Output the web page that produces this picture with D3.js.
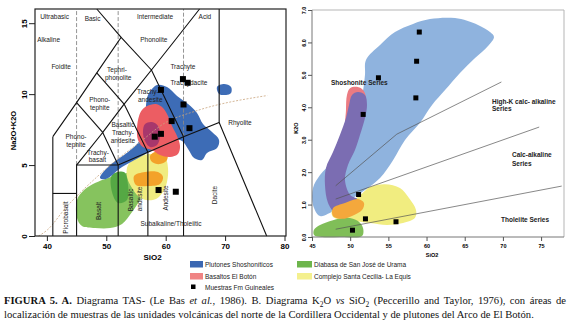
<!DOCTYPE html>
<html>
<head>
<meta charset="utf-8">
<script src="https://cdn.jsdelivr.net/npm/d3@7"></script>
<style>
  body { margin: 0; background: #fff; }
  svg { display: block; font-family: "Liberation Sans", Arial, sans-serif; }
  .caption { font-family: "Liberation Serif", "Times New Roman", serif; white-space: pre; }
</style>
</head>
<body>
<svg id="fig" width="570" height="325"></svg>
<script>
// ---------------- A. TAS diagram (SiO2 vs Na2O+K2O) ----------------
const tasTicksX = [40, 50, 60, 70, 80];
const tasTicksY = [0, 5, 10, 15];

// field boundaries as polylines [SiO2, Na2O+K2O]
const tasBoundaries = [
  [[41, 0], [41, 7]],
  [[41, 3], [45, 3]],
  [[45, 0], [45, 5], [52, 5], [52, 0]],
  [[57, 0], [57, 5.9]],
  [[63, 0], [63, 7]],
  [[52, 5], [57, 5.9], [63, 7], [69, 8], [77, 0]],
  [[69, 8], [69, 16]],
  [[45, 5], [49.4, 7.3], [52, 5]],
  [[49.4, 7.3], [53, 9.3], [57, 5.9]],
  [[53, 9.3], [57.6, 11.7], [63, 7]],
  [[41, 7], [45, 9.4], [48.4, 11.5], [52.5, 14], [48.4, 16]],
  [[45, 9.4], [49.4, 7.3]],
  [[48.4, 11.5], [53, 9.3]],
  [[52.5, 14], [57.6, 11.7], [61, 13.5], [65.7, 16]]
];
// ultrabasic / basic / intermediate / acid dividers (dashed, up to the top)
const tasDividers = [[45, 5], [52, 5], [63, 7]];
// alkaline / subalkaline divide (Irvine & Baragar)
const tasAlkalineDivide = [[38.6, 0], [40, 0.4], [43.2, 2], [45, 2.8], [48, 4], [50, 4.75],
  [53.7, 6], [55, 6.4], [60, 8], [65, 8.8], [77.1, 9.9]];

const tasFieldLabels = [
  ["Ultrabasic", 41.3, 15.3], ["Basic", 47.7, 15.15], ["Intermediate", 58.2, 15.3], ["Acid", 66.6, 15.3],
  ["Alkaline", 40.3, 13.65], ["Phonolite", 58.0, 13.65], ["Foidite", 42.4, 11.75],
  ["Tephri-", 51.8, 11.55], ["phonolite", 52.0, 10.99],
  ["Phono-", 48.9, 9.44], ["tephite", 48.9, 8.9],
  ["Phono-", 44.9, 6.84], ["tephite", 44.9, 6.27],
  ["Trachy-", 48.6, 5.71], ["basalt", 48.5, 5.21],
  ["Basaltic", 52.8, 7.68], ["Trachy-", 52.8, 7.12], ["andesite", 52.8, 6.55],
  ["Trachy-", 57.0, 10.01], ["andesite", 57.4, 9.44],
  ["Trachyte", 62.9, 11.77], ["Trachydacite", 63.9, 10.64],
  ["Rhyolite", 72.5, 7.82], ["Subalkaline/Tholeiitic", 60.9, 0.7]
];
const tasRotatedLabels = [
  ["Picrobasalt", 43.56, 1.3], ["Basalt", 49.1, 1.76], ["Basaltic", 54.58, 2.54],
  ["andesite", 55.93, 2.61], ["Andesite", 60.47, 2.68], ["Dacite", 68.64, 2.89]
];

// sample areas [SiO2, Na2O+K2O]
const tasDiabasa = [[45.07, 2.54], [46.25, 3.24], [48.1, 3.73], [50.29, 4.09], [52.65, 4.37], [54.67, 4.44],
  [56.01, 4.23], [56.52, 3.52], [55.84, 2.68], [54.33, 1.69], [52.65, 0.85], [50.63, 0.56],
  [48.1, 0.56], [45.91, 0.7], [45.07, 1.27]];
const tasDiabasaCore = [[50.96, 4.3], [52.98, 4.51], [53.66, 3.59], [53.49, 2.54], [51.97, 2.33], [50.96, 3.1]];
const tasCecilia = [[53.66, 5.0], [55.68, 5.64], [58.2, 5.78], [59.88, 5.57], [60.39, 4.79], [60.22, 3.81],
  [59.55, 3.1], [58.37, 2.61], [56.69, 2.54], [55.34, 2.82], [54.33, 3.38], [53.49, 4.16]];
const tasCeciliaCoreA = [[57.36, 5.64], [59.04, 6.06], [60.22, 5.92], [60.22, 5.36], [59.04, 5.07], [57.7, 5.21]];
const tasCeciliaCoreB = [[54.67, 4.23], [56.52, 4.51], [58.71, 4.51], [59.55, 4.16], [59.04, 3.66], [57.02, 3.52], [55.0, 3.59]];
const tasPlutones = [[57.02, 9.94], [58.54, 10.64], [60.22, 10.5], [61.91, 9.87], [63.76, 9.3], [65.27, 8.67],
  [66.28, 7.89], [67.8, 7.33], [68.98, 6.77], [68.64, 6.2], [66.96, 5.85], [66.11, 5.36], [64.77, 5.5],
  [63.76, 6.13], [62.75, 6.69], [61.06, 6.77], [58.71, 6.27], [55.68, 5.57], [52.65, 4.86], [49.95, 4.02],
  [48.94, 4.09], [50.63, 5.0], [53.66, 5.92], [55.68, 6.77], [56.52, 8.17], [56.69, 9.23]];
const tasPlutonesSmall = [[68.64, 10.5], [69.82, 10.71], [71.0, 10.5], [71.0, 10.08], [70.16, 9.94], [68.98, 10.01]];
const tasBasaltos = [[56.86, 9.16], [58.37, 9.3], [59.55, 9.02], [60.39, 8.46], [61.06, 7.75], [61.91, 7.05],
  [62.41, 6.34], [62.07, 5.78], [60.73, 5.57], [59.04, 5.71], [57.7, 6.06], [56.18, 6.27], [55.34, 6.77],
  [55.17, 7.61], [55.51, 8.46], [56.01, 8.88]];
const tasBasaltosCore = [[56.52, 7.89], [57.7, 8.03], [58.71, 7.75], [59.04, 7.05], [58.54, 6.41],
  [57.36, 6.27], [56.52, 6.69], [56.18, 7.33]];

const tasSamples = [[62.9, 11.06], [63.7, 10.8], [59.2, 10.3], [63.0, 9.27], [61.0, 8.1], [64.0, 7.6],
  [59.2, 7.2], [58.15, 7.0], [58.8, 3.24], [61.7, 3.12]];

// ---------------- B. K2O vs SiO2 (Peccerillo & Taylor) ----------------
const k2oTicksX = [45, 50, 55, 60, 65, 70, 75];
const k2oTicksY = [0, 1, 2, 3, 4, 5, 6, 7];
const k2oSeriesLines = [
  [[48.1, 1.58], [56.1, 3.17], [69.8, 4.78]],
  [[48.1, 1.17], [74.75, 3.39]],
  [[48.1, 0.24], [77.7, 1.57]]
];
const k2oSeriesLabels = [
  ["Shoshonite Series", 47.49, 4.69], ["High-K calc- alkaline", 68.57, 4.1], ["Series", 68.57, 3.89],
  ["Calc-alkaline", 71.19, 2.47], ["Series", 71.19, 2.2], ["Tholeiite Series", 69.75, 0.46]
];

const k2oPlutones = [[52.07, 5.46], [53.91, 5.92], [55.87, 6.32], [58.23, 6.57], [60.45, 6.72], [63.73, 6.75],
  [66.74, 6.54], [68.31, 6.32], [68.83, 6.17], [68.05, 5.89], [66.35, 5.52], [64.38, 5.06], [62.42, 4.53],
  [60.72, 4.07], [59.14, 3.52], [57.18, 2.99], [55.61, 2.37], [53.91, 1.82], [51.94, 1.45], [49.98, 1.14],
  [48.01, 0.83], [46.05, 0.65], [45.13, 0.99], [45.13, 1.51], [46.05, 1.91], [47.75, 2.37], [49.06, 2.99],
  [50.24, 3.67], [51.55, 4.38], [51.94, 5.0]];
const k2oBasaltos = [[49.58, 4.38], [49.98, 4.59], [50.89, 4.63], [51.68, 4.53], [52.07, 4.29], [51.55, 3.61],
  [50.24, 3.15], [49.45, 3.3], [49.45, 3.92]];
const k2oBasaltosOverlap = [[50.24, 4.38], [51.02, 4.47], [51.94, 4.38], [52.2, 4.07], [51.94, 3.67],
  [51.29, 3.15], [50.63, 2.68], [49.71, 2.22], [49.32, 1.76], [49.98, 1.3], [51.02, 1.14], [49.98, 0.89],
  [48.01, 0.77], [47.1, 1.05], [46.7, 1.6], [46.83, 2.13], [47.75, 2.62], [48.67, 3.15], [49.45, 3.67], [49.85, 4.07]];
const k2oCecilia = [[47.62, 0.83], [49.32, 1.02], [51.02, 1.23], [52.6, 1.54], [54.56, 1.63], [56.52, 1.51],
  [57.7, 1.2], [58.62, 0.83], [58.49, 0.59], [56.92, 0.43], [54.82, 0.37], [52.6, 0.43], [49.98, 0.52], [47.75, 0.62]];
const k2oCeciliaCore = [[47.75, 0.89], [49.32, 1.05], [51.02, 1.17], [51.81, 1.05], [51.55, 0.83], [50.24, 0.65],
  [48.93, 0.56], [47.75, 0.65]];
const k2oDiabasa = [[45.26, 0.22], [46.05, 0.37], [47.75, 0.52], [49.58, 0.59], [51.02, 0.49], [51.68, 0.28],
  [51.55, 0.03], [48.67, 0.0], [46.31, 0.0], [45.26, 0.06]];

const k2oSamples = [[59.05, 6.32], [58.7, 5.42], [53.7, 4.91], [58.6, 4.29], [51.7, 3.78], [51.1, 1.31],
  [52.0, 0.56], [56.0, 0.47], [50.3, 0.21]];

// ---------------- legend + caption ----------------
const legendUnits = [
  ["Plutones Shoshoníticos", "#3b67b2"],
  ["Basaltos El Botón", "#f08484"],
  ["Diabasa de San José de Urama", "#6db54c"],
  ["Complejo Santa Cecilia- La Equis", "#f4f08e"]
];
const legendSampleLabel = "Muestras Fm Guineales";

const captionLine1 = [
  { text: "FIGURA 5. A.", weight: "bold" },
  { text: " Diagrama TAS- (Le Bas " },
  { text: "et al.", style: "italic" },
  { text: ", 1986). B. Diagrama K" },
  { text: "2", sub: true },
  { text: "O " },
  { text: "vs", style: "italic" },
  { text: " SiO" },
  { text: "2", sub: true },
  { text: " (Peccerillo and Taylor, 1976), con áreas de" }
];
const captionLine2 = [
  { text: "localización de muestras de las unidades volcánicas del norte de la Cordillera Occidental y de plutones del Arco de El Botón." }
];

document.addEventListener('DOMContentLoaded', function () {

    // ====================================================================
    // 1. CONFIGURATION
    // ====================================================================
    const CONFIG = {
        tas: { left: 35, right: 286, top: 9, bottom: 236, domainX: [38, 80.25], domainY: [0, 16] },
        k2o: { left: 312, right: 564, top: 10, bottom: 237, domainX: [45, 78], domainY: [0, 7] },
        tasColors: {
            diabasa: "#86c35e", diabasaCore: "#55a844", cecilia: "#f0ec80", ceciliaCore: "#f3a22a",
            plutones: "#3d6cb6", basaltos: "#ec5d63", basaltosCore: "#a7376c"
        },
        k2oColors: {
            plutones: "#8fb3de", basaltos: "#eb7b82", overlap: "#7b6db2",
            cecilia: "#f1ed80", ceciliaCore: "#f4a83c", diabasa: "#80be58"
        },
        fieldFont: 6.5,
        caption: { left: 4, right: 566, line1: 304, line2: 318, size: 10.6 }
    };

    const svg = d3.select("#fig");

    function blobPath(xs, ys) {
        return d3.line()
            .x(d => xs(d[0]))
            .y(d => ys(d[1]))
            .curve(d3.curveCatmullRomClosed.alpha(0.5));
    }

    // ====================================================================
    // 2. TAS DIAGRAM
    // ====================================================================
    const T = CONFIG.tas;
    const xTas = d3.scaleLinear().domain(T.domainX).range([T.left, T.right]);
    const yTas = d3.scaleLinear().domain(T.domainY).range([T.bottom, T.top]);
    const tas = svg.append("g").attr("class", "tas");
    const tasBlob = blobPath(xTas, yTas);

    const tasAreas = [
        [tasDiabasa, "diabasa"], [tasCecilia, "cecilia"], [tasCeciliaCoreA, "ceciliaCore"],
        [tasCeciliaCoreB, "ceciliaCore"], [tasDiabasaCore, "diabasaCore"],
        [tasPlutones, "plutones"], [tasPlutonesSmall, "plutones"],
        [tasBasaltos, "basaltos"], [tasBasaltosCore, "basaltosCore"]
    ];
    tas.append("g").selectAll("path")
        .data(tasAreas)
        .join("path")
        .attr("d", d => tasBlob(d[0]))
        .attr("fill", d => CONFIG.tasColors[d[1]]);

    tas.append("g").selectAll("line")
        .data(tasDividers)
        .join("line")
        .attr("x1", d => xTas(d[0])).attr("x2", d => xTas(d[0]))
        .attr("y1", d => yTas(d[1])).attr("y2", T.top)
        .attr("stroke", "#888").attr("stroke-width", 0.9).attr("stroke-dasharray", "4,2");

    tas.append("path")
        .attr("d", d3.line().x(d => xTas(d[0])).y(d => yTas(d[1])).curve(d3.curveMonotoneX)(tasAlkalineDivide))
        .attr("fill", "none").attr("stroke", "#c9a47e").attr("stroke-width", 0.8)
        .attr("stroke-dasharray", "2,1.5");

    const tasLine = d3.line().x(d => xTas(d[0])).y(d => yTas(d[1]));
    tas.append("g").selectAll("path")
        .data(tasBoundaries)
        .join("path")
        .attr("d", tasLine)
        .attr("fill", "none").attr("stroke", "#111").attr("stroke-width", 1.1)
        .attr("stroke-linejoin", "miter");

    tas.append("rect")
        .attr("x", T.left).attr("y", T.top)
        .attr("width", T.right - T.left).attr("height", T.bottom - T.top)
        .attr("fill", "none").attr("stroke", "#222").attr("stroke-width", 1.2);

    tas.append("g").selectAll("text")
        .data(tasFieldLabels)
        .join("text")
        .attr("x", d => xTas(d[1])).attr("y", d => yTas(d[2]))
        .attr("text-anchor", "middle")
        .attr("font-size", CONFIG.fieldFont).attr("fill", "#222")
        .text(d => d[0]);

    tas.append("g").selectAll("text")
        .data(tasRotatedLabels)
        .join("text")
        .attr("transform", d => `translate(${xTas(d[1])},${yTas(d[2])}) rotate(-90)`)
        .attr("text-anchor", "middle")
        .attr("font-size", CONFIG.fieldFont).attr("fill", "#222")
        .text(d => d[0]);

    tas.append("g").selectAll("rect")
        .data(tasSamples)
        .join("rect")
        .attr("x", d => xTas(d[0]) - 3).attr("y", d => yTas(d[1]) - 3)
        .attr("width", 6).attr("height", 6)
        .attr("fill", "#000");

    // axes
    tas.append("g")
        .attr("transform", `translate(0,${T.bottom})`)
        .call(d3.axisBottom(xTas).tickValues(tasTicksX).tickSize(5).tickPadding(2))
        .call(g => g.select(".domain").remove())
        .attr("font-family", null).attr("font-size", 8).attr("font-weight", "bold")
        .call(g => g.selectAll("line").attr("stroke", "#222"));

    tas.append("g")
        .attr("transform", `translate(${T.left},0)`)
        .call(d3.axisLeft(yTas).tickValues(tasTicksY).tickSize(6))
        .call(g => g.select(".domain").remove())
        .attr("font-family", null).attr("font-size", 8).attr("font-weight", "bold")
        .call(g => g.selectAll("line").attr("stroke", "#222"))
        .call(g => g.selectAll(".tick text")
            .attr("transform", "rotate(-90)")
            .attr("x", 0).attr("y", -8).attr("dy", 0)
            .attr("text-anchor", "middle"));

    tas.append("text")
        .attr("x", (T.left + T.right) / 2 - 8).attr("y", 260)
        .attr("text-anchor", "middle").attr("font-size", 8).attr("font-weight", "bold")
        .text("SiO2");

    tas.append("text")
        .attr("transform", `translate(16,${(T.top + T.bottom) / 2 + 8}) rotate(-90)`)
        .attr("text-anchor", "middle").attr("font-size", 7.5).attr("font-weight", "bold")
        .text("Na2O+K2O");

    // ====================================================================
    // 3. K2O vs SiO2 DIAGRAM
    // ====================================================================
    const K = CONFIG.k2o;
    const xK = d3.scaleLinear().domain(K.domainX).range([K.left, K.right]);
    const yK = d3.scaleLinear().domain(K.domainY).range([K.bottom, K.top]);
    const k2o = svg.append("g").attr("class", "k2o");
    const kBlob = blobPath(xK, yK);

    const k2oAreas = [
        [k2oPlutones, "plutones"], [k2oCecilia, "cecilia"], [k2oDiabasa, "diabasa"],
        [k2oBasaltos, "basaltos"], [k2oBasaltosOverlap, "overlap"], [k2oCeciliaCore, "ceciliaCore"]
    ];
    k2o.append("g").selectAll("path")
        .data(k2oAreas)
        .join("path")
        .attr("d", d => kBlob(d[0]))
        .attr("fill", d => CONFIG.k2oColors[d[1]]);

    const kLine = d3.line().x(d => xK(d[0])).y(d => yK(d[1]));
    k2o.append("g").selectAll("path")
        .data(k2oSeriesLines)
        .join("path")
        .attr("d", kLine)
        .attr("fill", "none").attr("stroke", "#555").attr("stroke-width", 0.7);

    // light frame on top/right, darker axes
    k2o.append("path")
        .attr("d", `M${K.left},${K.top}H${K.right}V${K.bottom}`)
        .attr("fill", "none").attr("stroke", "#b5b5b5").attr("stroke-width", 1);

    k2o.append("g")
        .attr("transform", `translate(0,${K.bottom})`)
        .call(d3.axisBottom(xK).tickValues(k2oTicksX).tickSize(4).tickPadding(3))
        .call(g => g.select(".domain").attr("stroke", "#777").attr("d", `M${K.left},0H${K.right}`))
        .attr("font-family", null).attr("font-size", 5.5).attr("font-weight", "bold")
        .call(g => g.selectAll(".tick line").attr("stroke", "#555"));

    k2o.append("g")
        .attr("transform", `translate(${K.left},0)`)
        .call(d3.axisLeft(yK).tickValues(k2oTicksY).tickSize(4))
        .call(g => g.select(".domain").attr("stroke", "#777").attr("d", `M0,${K.top}V${K.bottom}`))
        .attr("font-family", null).attr("font-size", 5.5).attr("font-weight", "bold")
        .call(g => g.selectAll(".tick line").attr("stroke", "#555"))
        .call(g => g.selectAll(".tick text")
            .attr("transform", "rotate(-90)")
            .attr("x", 0).attr("y", -6.5).attr("dy", 0)
            .attr("text-anchor", "middle"));

    k2o.append("g").selectAll("text")
        .data(k2oSeriesLabels)
        .join("text")
        .attr("x", d => xK(d[1])).attr("y", d => yK(d[2]))
        .attr("font-size", 6.5).attr("font-weight", "bold").attr("fill", "#222")
        .text(d => d[0]);

    k2o.append("g").selectAll("rect")
        .data(k2oSamples)
        .join("rect")
        .attr("x", d => xK(d[0]) - 2.5).attr("y", d => yK(d[1]) - 2.5)
        .attr("width", 5).attr("height", 5)
        .attr("fill", "#000");

    k2o.append("text")
        .attr("x", 432).attr("y", 257)
        .attr("text-anchor", "middle").attr("font-size", 5.5).attr("font-weight", "bold")
        .text("SiO2");

    k2o.append("text")
        .attr("transform", `translate(298,128) rotate(-90)`)
        .attr("text-anchor", "middle").attr("font-size", 5.5).attr("font-weight", "bold")
        .text("K2O");

    // ====================================================================
    // 4. LEGEND
    // ====================================================================
    const legend = svg.append("g").attr("class", "legend").attr("font-size", 6.5).attr("fill", "#222");
    const legendPos = [[190, 261], [190, 273], [297, 261], [297, 273]];
    const items = legend.selectAll("g.item")
        .data(legendUnits)
        .join("g")
        .attr("class", "item")
        .attr("transform", (d, i) => `translate(${legendPos[i][0]},${legendPos[i][1]})`);
    items.append("rect").attr("width", (d, i) => i < 2 ? 13 : 15).attr("height", 6.5).attr("fill", d => d[1]);
    items.append("text").attr("x", (d, i) => i < 2 ? 15 : 17).attr("y", 5.5).text(d => d[0]);

    legend.append("rect").attr("x", 191).attr("y", 284.5).attr("width", 4.5).attr("height", 4.5).attr("fill", "#000");
    legend.append("text").attr("x", 205).attr("y", 290).text(legendSampleLabel);

    // ====================================================================
    // 5. CAPTION (first line justified)
    // ====================================================================
    const C = CONFIG.caption;
    function captionLine(parts, y) {
        const t = svg.append("text")
            .attr("class", "caption")
            .attr("x", C.left).attr("y", y)
            .attr("font-size", C.size).attr("fill", "#111");
        let shifted = false;
        parts.forEach(p => {
            const span = t.append("tspan").text(p.text);
            if (p.weight) span.attr("font-weight", p.weight);
            if (p.style) span.attr("font-style", p.style);
            if (p.sub) {
                span.attr("font-size", C.size * 0.7).attr("dy", 2.5);
                shifted = true;
            } else if (shifted) {
                span.attr("dy", -2.5);
                shifted = false;
            }
        });
        return t;
    }

    const line1 = captionLine(captionLine1, C.line1);
    const natural = line1.node().getComputedTextLength();
    const spaces = captionLine1.map(p => p.text).join("").split(" ").length - 1;
    line1.attr("word-spacing", (C.right - C.left - natural) / spaces);

    captionLine(captionLine2, C.line2);
});
</script>
</body>
</html>
